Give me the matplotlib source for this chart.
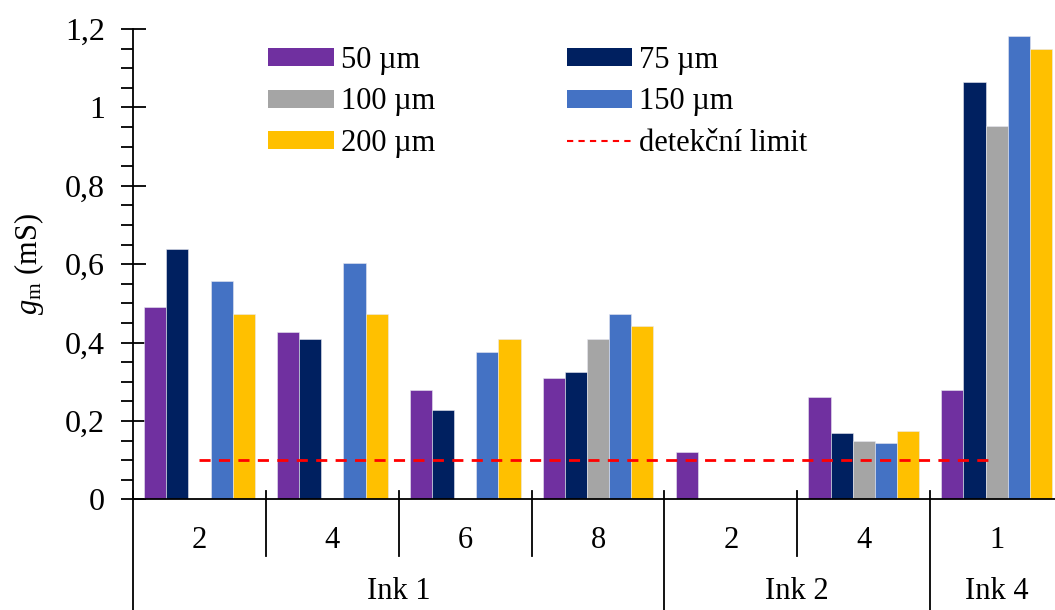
import numpy as np
import matplotlib.pyplot as plt
from matplotlib.patches import Patch
from matplotlib.lines import Line2D

plt.rcParams['font.family'] = ['Liberation Serif', 'DejaVu Serif']
plt.rcParams['mathtext.fontset'] = 'custom'
plt.rcParams['mathtext.rm'] = 'Liberation Serif'
plt.rcParams['mathtext.it'] = 'Liberation Serif:italic'

# data
groups = ['2', '4', '6', '8', '2', '4', '1']
inks = ['Ink 1', 'Ink 2', 'Ink 4']
ink_sizes = [4, 2, 1]
series = ['50 µm', '75 µm', '100 µm', '150 µm', '200 µm']
nan = np.nan
v50 = [0.491, 0.426, 0.279, 0.310, 0.120, 0.262, 0.279]
v75 = [0.639, 0.409, 0.228, 0.325, nan, 0.170, 1.066]
v100 = [nan, nan, nan, 0.409, nan, 0.148, 0.952]
v150 = [0.556, 0.604, 0.376, 0.473, nan, 0.144, 1.181]
v200 = [0.473, 0.473, 0.409, 0.442, nan, 0.174, 1.148]
limit = 0.1
colors = ['#7030A0', '#002060', '#A5A5A5', '#4472C4', '#FFC000']

fig = plt.figure(figsize=(10.55, 6.1), dpi=100)
ax = fig.add_axes([133/1055, 110.7/610, 930/1055, 470.3/610])

n = len(groups)
x = np.arange(n)
w = 1/6
handles = []
for k, vals in enumerate([v50, v75, v100, v150, v200]):
    ax.bar(x + w/2 + w*(k+0.5), vals, width=w, color=colors[k],
           edgecolor='#E8E8F0', linewidth=0.4, zorder=2)
    handles.append(Patch(facecolor=colors[k], label=series[k]))

ax.plot([0.5, n - 0.55], [limit, limit], color='red', linestyle=(0, (4, 3)),
        linewidth=2, zorder=3)
lim_handle = Line2D([], [], color='red', linestyle=(0, (3, 2.5)), linewidth=1.5,
                    label='detekční limit')

ax.set_xlim(0, n)
ax.set_ylim(0, 1.2)
ax.set_yticks(np.arange(0, 1.21, 0.2))
ax.set_yticklabels(['0', '0,2', '0,4', '0,6', '0,8', '1', '1,2'])
ax.set_yticks(np.arange(0, 1.21, 0.05), minor=True)
ax.tick_params(axis='y', which='major', direction='inout', length=18, width=1.3,
               labelsize=23, pad=11)
ax.tick_params(axis='y', which='minor', direction='out', length=9, width=1.3)
ax.set_xticks([])
for s in ['top', 'right']:
    ax.spines[s].set_visible(False)
ax.spines['left'].set_linewidth(1.3)
ax.spines['bottom'].set_linewidth(1.3)

ax.set_ylabel(r'$g_\mathrm{m}$ (mS)', fontsize=22, labelpad=14)

# category axis
tr = ax.get_xaxis_transform()
ink_edges = np.concatenate([[0], np.cumsum(ink_sizes)])
for b in range(n + 1):
    if b in ink_edges:
        ax.plot([b, b], [0.0176, -0.3], color='black', lw=1.3,
                transform=tr, clip_on=False)
    else:
        ax.plot([b, b], [0.0176, -0.1206], color='black', lw=1.3,
                transform=tr, clip_on=False)
for i, g in enumerate(groups):
    ax.text(i + 0.5, -0.087, g, transform=tr, ha='center', va='center', fontsize=22)
for j, ink in enumerate(inks):
    ax.text((ink_edges[j] + ink_edges[j+1]) / 2, -0.197, ink, transform=tr,
            ha='center', va='center', fontsize=22)

leg_handles = [handles[0], handles[2], handles[4], handles[1], handles[3], lim_handle]
ax.legend(handles=leg_handles, ncol=2, frameon=False, fontsize=22,
          loc='upper left', bbox_to_anchor=((256-133)/930, (499.3-34)/470.3),
          bbox_transform=ax.transAxes,
          handlelength=2.15, handleheight=0.52, handletextpad=0.23,
          columnspacing=4.3, labelspacing=0.4, borderaxespad=0)

fig.savefig('out.png', dpi=100)
